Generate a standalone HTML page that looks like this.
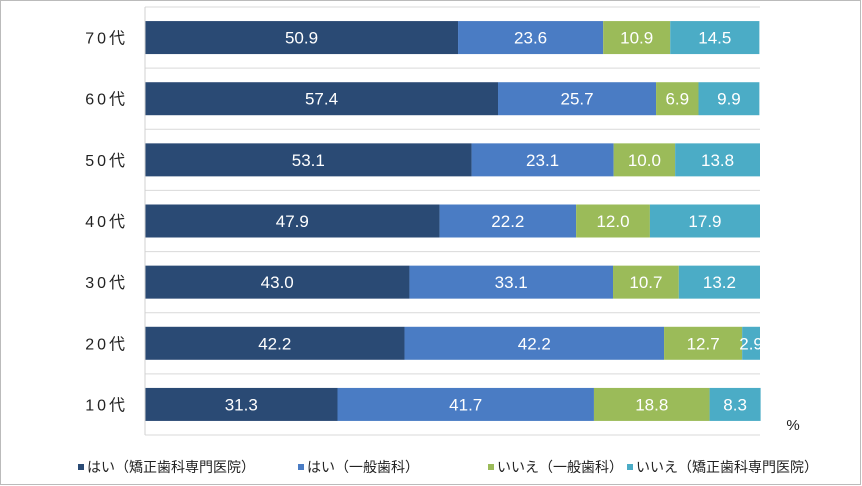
<!DOCTYPE html>
<html><head><meta charset="utf-8"><style>
body{margin:0;background:#fff;}
svg{display:block;font-family:"Liberation Sans","Noto Sans CJK JP",sans-serif;}
</style></head><body>
<svg width="862" height="486">
<rect x="0.5" y="0.5" width="860" height="484" fill="#fff" stroke="#bbb"/>
<g id="grid"></g><g id="bars"></g><g id="labels"></g>
<line x1="145" y1="7" x2="145" y2="435" stroke="#d0d0d0"/>
<text x="793" y="430" font-size="15" fill="#222" text-anchor="middle">%</text>
<g id="legend"></g>
</svg>
<script>
const categories=["70代","60代","50代","40代","30代","20代","10代"];
const seriesNames=["はい（矯正歯科専門医院）","はい（一般歯科）","いいえ（一般歯科）","いいえ（矯正歯科専門医院）"];
const s1=[50.9,57.4,53.1,47.9,43.0,42.2,31.3];
const s2=[23.6,25.7,23.1,22.2,33.1,42.2,41.7];
const s3=[10.9,6.9,10.0,12.0,10.7,12.7,18.8];
const s4=[14.5,9.9,13.8,17.9,13.2,2.9,8.3];
const colors=["#2a4a74","#4a7cc4","#9bbb59","#4bacc6"];
const NS="http://www.w3.org/2000/svg";
const x0=145,x1=760,plotTop=7,plotBottom=435,rowH=(plotBottom-plotTop)/categories.length,barH=33;
const xs=v=>v/100*(x1-x0);
function mk(t,a,p){const e=document.createElementNS(NS,t);for(const k in a)e.setAttribute(k,a[k]);p.appendChild(e);return e;}
const grid=document.getElementById('grid'),bars=document.getElementById('bars'),labels=document.getElementById('labels');
for(let i=0;i<=categories.length;i++){const y=plotTop+i*rowH;
const l=mk('line',{x1:x0,x2:x1,y1:y,y2:y,stroke:'#d9d9d9'},grid);

}
const series=[s1,s2,s3,s4];
categories.forEach((c,i)=>{
const cy=plotTop+rowH*(i+0.5);
const t=mk('text',{x:128,y:cy+6,'font-size':16,fill:'#222','text-anchor':'end','letter-spacing':'3'},labels);
t.textContent=c;


let acc=0;
series.forEach((s,k)=>{
const v=s[i];const x=x0+xs(acc);const w=xs(v);
const r=mk('rect',{x:x,y:cy-barH/2,width:w,height:barH,fill:colors[k]},bars);


const tt=mk('text',{x:x+w/2,y:cy+6,'font-size':17,fill:'#fff','text-anchor':'middle'},labels);
tt.textContent=v.toFixed(1);


acc+=v;});
});
const lg=document.getElementById('legend');
const lx=[78,298,488,627];
seriesNames.forEach((n,k)=>{
const g=mk('g',{},lg);


mk('rect',{x:lx[k],y:464,width:6,height:6,fill:colors[k]},g);
const t=mk('text',{x:lx[k]+9,y:472,'font-size':14,fill:'#222'},g);
t.textContent=n;});
</script>
</body></html>
